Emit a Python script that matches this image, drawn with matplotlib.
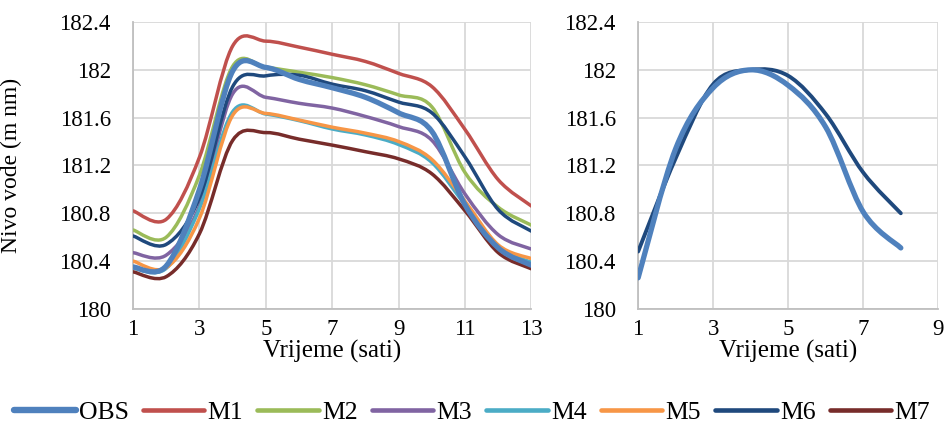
import numpy as np
import matplotlib
matplotlib.use('Agg')
import matplotlib.pyplot as plt
import matplotlib.lines as lines
from matplotlib.path import Path
from matplotlib.patches import PathPatch

plt.rcParams['font.family'] = ['Liberation Serif', 'DejaVu Serif']

# ---------------- data ----------------
hours_left = [1, 2, 3, 4, 5, 6, 7, 8, 9, 10, 11, 12, 13]
obs_left = [180.35, 180.36, 181.00, 181.99, 182.02, 181.92, 181.85, 181.77, 181.64, 181.485, 180.87, 180.51, 180.365]
m1 = [180.82, 180.75, 181.27, 182.20, 182.24, 182.19, 182.13, 182.07, 181.97, 181.86, 181.50, 181.08, 180.86]
m2 = [180.66, 180.60, 181.12, 182.03, 182.02, 181.98, 181.935, 181.875, 181.79, 181.69, 181.14, 180.85, 180.70]
m3 = [180.47, 180.45, 180.86, 181.80, 181.77, 181.72, 181.68, 181.61, 181.525, 181.41, 180.96, 180.62, 180.50]
m4 = [180.34, 180.34, 180.84, 181.65, 181.63, 181.575, 181.505, 181.455, 181.375, 181.225, 180.87, 180.515, 180.39]
m5 = [180.40, 180.345, 180.76, 181.62, 181.635, 181.58, 181.52, 181.47, 181.40, 181.25, 180.90, 180.535, 180.42]
m6 = [180.61, 180.54, 180.93, 181.86, 181.95, 181.955, 181.88, 181.825, 181.73, 181.64, 181.27, 180.83, 180.65]
m7 = [180.31, 180.27, 180.63, 181.41, 181.475, 181.42, 181.37, 181.315, 181.255, 181.13, 180.82, 180.47, 180.335]

hours_right = [1, 2, 3, 4, 5, 6, 7, 8]
obs_right = [180.26, 181.34, 181.85, 182.00, 181.87, 181.52, 180.81, 180.51]
m6_right = [180.48, 181.26, 181.88, 182.00, 181.95, 181.63, 181.14, 180.80]

names = ['OBS', 'M1', 'M2', 'M3', 'M4', 'M5', 'M6', 'M7']
colors = ['#4F81BD', '#C0504D', '#9BBB59', '#8064A2', '#4BACC6', '#F79646', '#1F497D', '#772C2A']
widths = [3.8, 2.5, 2.5, 2.5, 2.5, 2.5, 2.5, 2.5]

y_ticks = [180, 180.4, 180.8, 181.2, 181.6, 182, 182.4]
y_ticklabels = ['180', '180.4', '180.8', '181.2', '181.6', '182', '182.4']


def smooth_line(ax, x, y, color, lw):
    # excel style smoothed line: cubic bezier through the points
    x = np.asarray(x, float)
    y = np.asarray(y, float)
    pts = np.column_stack([x, y])
    n = len(pts)
    verts = [pts[0]]
    codes = [Path.MOVETO]
    for i in range(n - 1):
        p0 = pts[max(i - 1, 0)]
        p1 = pts[i]
        p2 = pts[i + 1]
        p3 = pts[min(i + 2, n - 1)]
        verts += [p1 + (p2 - p0) / 6.0, p2 - (p3 - p1) / 6.0, p2]
        codes += [Path.CURVE4] * 3
    patch = PathPatch(Path(verts, codes), fill=False, edgecolor=color, lw=lw,
                      capstyle='round', joinstyle='round', zorder=3)
    ax.add_patch(patch)


def style_axes(ax, xmax):
    ax.set_xlim(1, xmax)
    ax.set_ylim(180, 182.4)
    ax.set_xticks(range(1, xmax + 1, 2))
    ax.set_yticks(y_ticks)
    ax.set_yticklabels(y_ticklabels)
    ax.grid(True, color='#D9D9D9', lw=1.3)
    ax.set_axisbelow(True)
    for s in ['top', 'right']:
        ax.spines[s].set_visible(False)
    for s in ['left', 'bottom']:
        ax.spines[s].set_color('#BFBFBF')
        ax.spines[s].set_linewidth(1.3)
    ax.tick_params(length=0, labelsize=16.5)
    ax.tick_params(axis='y', pad=16)
    ax.tick_params(axis='x', pad=7)
    ax.set_xlabel('Vrijeme (sati)', fontsize=18, labelpad=0)


fig = plt.figure(figsize=(9.44, 4.32), dpi=100)
ax1 = fig.add_axes([0.141, 0.285, 0.422, 0.664])
ax2 = fig.add_axes([0.676, 0.285, 0.318, 0.664])

left_series = [obs_left, m1, m2, m3, m4, m5, m6, m7]
draw_order = [1, 2, 3, 4, 5, 6, 7, 0]
for i in draw_order:
    smooth_line(ax1, hours_left, left_series[i], colors[i], widths[i])
style_axes(ax1, 13)
ax1.set_ylabel('Nivo vode (m nm)', fontsize=17)
ax1.yaxis.set_label_coords(-0.28, 0.5)

smooth_line(ax2, hours_right, m6_right, colors[6], 2.8)
smooth_line(ax2, hours_right, obs_right, colors[0], 3.8)
style_axes(ax2, 9)

handles = [lines.Line2D([0], [0], color=colors[i], lw=widths[i] + 0.8,
                        solid_capstyle='round') for i in range(8)]
fig.legend(handles, names, loc='lower center', ncol=8, frameon=False,
           fontsize=18.5, handlelength=2.4, handletextpad=0.12,
           columnspacing=0.55, bbox_to_anchor=(0.5, -0.035))

fig.savefig('out.png', dpi=100)
